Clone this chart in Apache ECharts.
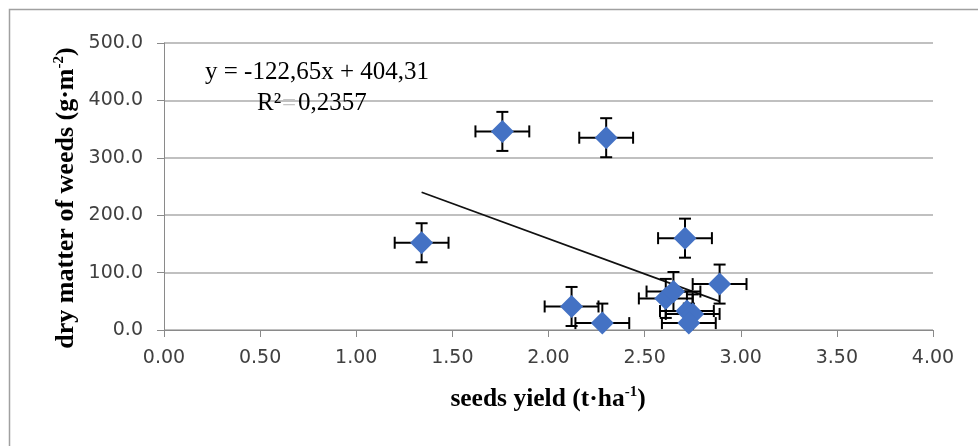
<!DOCTYPE html>
<html>
<head>
<meta charset="utf-8">
<script src="https://cdn.jsdelivr.net/npm/echarts@6/dist/echarts.min.js"></script>
<style>
html,body{margin:0;padding:0;background:#fff;}
#chart{width:978px;height:446px;}
</style>
</head>
<body>
<div id="chart"></div>
<script>
// Data
const xValues = [1.34, 1.76, 2.30, 2.71, 2.89, 2.12, 2.28, 2.61, 2.65, 2.72, 2.75, 2.73];
const yValues = [152, 346, 335, 160, 80, 41, 12, 55, 67, 33, 28, 12];
const xErr = [0.14, 0.14, 0.14, 0.14, 0.14, 0.14, 0.14, 0.14, 0.14, 0.14, 0.14, 0.14];
const yErr = [34, 34, 34, 34, 34, 34, 34, 34, 34, 34, 34, 34];
const trendSlope = -122.65;
const trendIntercept = 404.31;
const equationText = 'y = -122,65x + 404,31';
const r2Value = '0,2357';
const xAxisTitle = ['seeds yield (t·ha', '-1', ')'];
const yAxisTitle = ['dry matter of weeds (g·m', '-2', ')'];

const points = xValues.map((x, i) => [x, yValues[i]]);
const errData = xValues.map((x, i) => [x, yValues[i], xErr[i], yErr[i]]);
const xMin = Math.min(...xValues), xMax = Math.max(...xValues);
const trendData = [[xMin, trendIntercept + trendSlope * xMin], [xMax, trendIntercept + trendSlope * xMax]];

const chart = echarts.init(document.getElementById('chart'), null, {renderer: 'canvas'});
const tickFont = 'DejaVu Sans';
const titleFont = 'Liberation Serif';

chart.setOption({
  animation: false,
  backgroundColor: '#fff',
  grid: {left: 164, right: 45, top: 43, bottom: 116, containLabel: false},
  xAxis: {
    type: 'value', min: 0, max: 4, interval: 0.5,
    axisLine: {show: true, onZero: false, lineStyle: {color: '#8a8a8a', width: 1}},
    axisTick: {show: true, inside: false, length: 7, lineStyle: {color: '#8a8a8a'}},
    splitLine: {show: false},
    axisLabel: {margin: 19, color: '#404040', fontFamily: tickFont, fontSize: 19,
      formatter: v => v.toFixed(2)}
  },
  yAxis: {
    type: 'value', min: 0, max: 500, interval: 100,
    axisLine: {show: true, lineStyle: {color: '#8a8a8a', width: 1}},
    axisTick: {show: true, inside: false, length: 7, lineStyle: {color: '#8a8a8a'}},
    splitLine: {show: true, lineStyle: {color: '#ababab', width: 1.5}},
    axisLabel: {margin: 21, color: '#404040', fontFamily: tickFont, fontSize: 19,
      formatter: v => v.toFixed(1)}
  },
  series: [
    {
      type: 'line', data: trendData, symbol: 'none', z: 2,
      lineStyle: {color: '#111', width: 1.8}
    },
    {
      type: 'custom', data: errData, z: 3, clip: true,
      encode: {x: 0, y: 1},
      renderItem: function (params, api) {
        const x = api.value(0), y = api.value(1), ex = api.value(2), ey = api.value(3);
        const l = api.coord([x - ex, y]);
        const r = api.coord([x + ex, y]);
        const t = api.coord([x, y + ey]);
        const low = y - ey;
        const b = api.coord([x, Math.max(0, low)]);
        const cap = 6;
        const st = {stroke: '#000', lineWidth: 2};
        const kids = [
          {type: 'line', shape: {x1: l[0], y1: l[1], x2: r[0], y2: r[1]}, style: st},
          {type: 'line', shape: {x1: l[0], y1: l[1] - cap, x2: l[0], y2: l[1] + cap}, style: st},
          {type: 'line', shape: {x1: r[0], y1: r[1] - cap, x2: r[0], y2: r[1] + cap}, style: st},
          {type: 'line', shape: {x1: t[0], y1: t[1], x2: b[0], y2: b[1]}, style: st},
          {type: 'line', shape: {x1: t[0] - cap, y1: t[1], x2: t[0] + cap, y2: t[1]}, style: st}
        ];
        if (low >= 0) {
          kids.push({type: 'line', shape: {x1: b[0] - cap, y1: b[1], x2: b[0] + cap, y2: b[1]}, style: st});
        }
        return {type: 'group', children: kids};
      }
    },
    {
      type: 'scatter', data: points, z: 4,
      symbol: 'diamond', symbolSize: 23,
      itemStyle: {color: '#4472C4', opacity: 1}
    }
  ],
  graphic: [
    {type: 'rect', silent: true, z: -10,
      shape: {x: 9.5, y: 9.5, width: 990, height: 460},
      style: {fill: 'none', stroke: '#a0a0a0', lineWidth: 1.5}},
    {type: 'text', left: 205, top: 60, z: 10,
      style: {text: equationText, font: '25px "Liberation Serif"', fill: '#000'}},
    {type: 'text', left: 257, top: 91, z: 10,
      style: {text: 'R²', font: '25px "Liberation Serif"', fill: '#000'}},
    {type: 'text', left: 282, top: 92, z: 1,
      style: {text: '=', font: '25px "Liberation Serif"', fill: '#c4c4c4'}},
    {type: 'text', left: 298, top: 91, z: 10,
      style: {text: r2Value, font: '25px "Liberation Serif"', fill: '#000'}},
    {type: 'text', x: 548, y: 399, z: 10,
      style: {text: '{a|' + xAxisTitle[0] + '}{s|' + xAxisTitle[1] + '}{a|' + xAxisTitle[2] + '}',
        align: 'center', verticalAlign: 'middle',
        rich: {a: {fontFamily: titleFont, fontWeight: 'bold', fontSize: 25.5, color: '#000', lineHeight: 28},
               s: {fontFamily: titleFont, fontWeight: 'bold', fontSize: 15, color: '#000', lineHeight: 15, verticalAlign: 'top'}}}},
    {type: 'text', x: 66, y: 198, rotation: Math.PI / 2, z: 10,
      style: {text: '{a|' + yAxisTitle[0] + '}{s|' + yAxisTitle[1] + '}{a|' + yAxisTitle[2] + '}',
        align: 'center', verticalAlign: 'middle',
        rich: {a: {fontFamily: titleFont, fontWeight: 'bold', fontSize: 26, color: '#000', lineHeight: 28},
               s: {fontFamily: titleFont, fontWeight: 'bold', fontSize: 15, color: '#000', lineHeight: 15, verticalAlign: 'top'}}}}
  ]
});
</script>
</body>
</html>
